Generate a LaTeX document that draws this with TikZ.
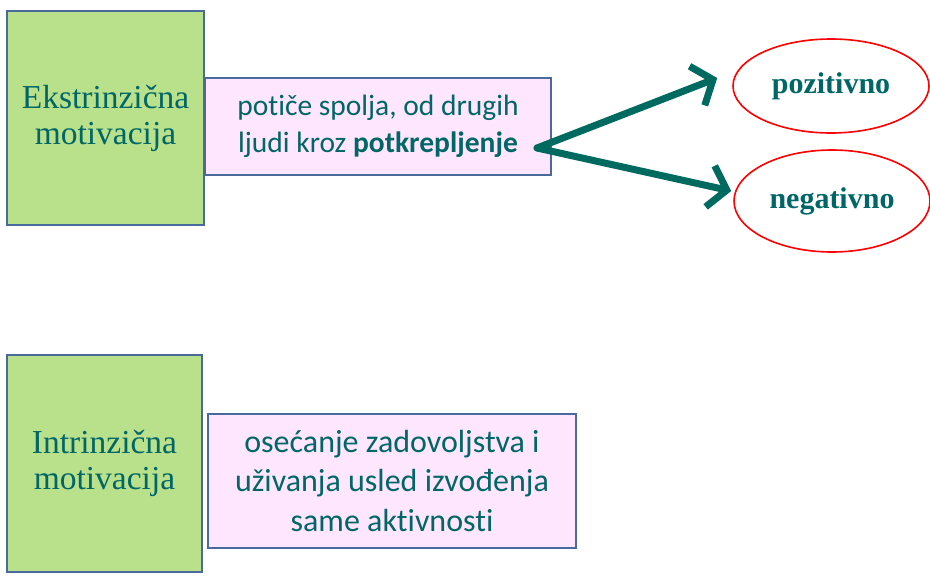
\documentclass[tikz,border=0pt]{standalone}
\usepackage{fontspec}
\setmainfont{Liberation Serif}
\newfontfamily\bodyfont[Ligatures=NoCommon]{Carlito}
\usepackage{xcolor}
\usepackage{tikz}
\usetikzlibrary{shapes.geometric,arrows.meta,calc}
\definecolor{teal}{HTML}{006666}
\definecolor{arrowc}{HTML}{006A60}
\definecolor{frame}{HTML}{4A6A9C}
\definecolor{leaf}{HTML}{B9E08B}
\definecolor{blush}{HTML}{FFE6FF}
\definecolor{ring}{HTML}{FF0000}
\tikzset{
  kind/.style={rectangle, draw=frame, fill=leaf, line width=1.6pt, text=teal,
    font=\fontsize{33.5}{36}\selectfont, align=center, inner sep=0pt},
  note/.style={rectangle, draw=frame, fill=blush, line width=1.3pt, text=teal,
    font=\bodyfont\fontsize{29.5}{37}\selectfont, align=center, inner sep=0pt},
  sign/.style={ellipse, draw=ring, line width=1.6pt, text=teal,
    font=\bfseries\fontsize{30}{32}\selectfont, inner sep=0pt},
  push/.style={draw=arrowc, line width=7pt, line cap=round,
    -{Straight Barb[length=17pt,width=42pt]}},
}
\begin{document}
\begin{tikzpicture}[x=1pt,y=-1pt]
  \useasboundingbox (0,0) rectangle (930,579);
  % extrinsic
  \node[kind, minimum width=197pt, minimum height=214pt] (ext) at (105.5,118) {Ekstrinzična\\motivacija};
  \node[note, minimum width=346pt, minimum height=97pt] (extnote) at (378,126.5) {potiče spolja, od drugih\\ljudi kroz \textbf{potkrepljenje}};
  \node[sign, minimum width=196pt, minimum height=94pt] (pos) at (831,86) {pozitivno};
  \node[sign, minimum width=196pt, minimum height=102pt] (neg) at (832,201) {negativno};
  \coordinate (fork) at (537,148);
  \coordinate (postip) at ($(pos.west)+(-15,-8)$);
  \coordinate (negtip) at ($(neg.west)+(-2,-10)$);
  \draw[push] (fork) -- (postip);
  \draw[push] (fork) -- (negtip);
  % intrinsic
  \node[kind, minimum width=195pt, minimum height=217pt] (int) at (104.5,463.5) {Intrinzična\\motivacija};
  \node[note, font=\bodyfont\fontsize{32}{39.5}\selectfont, minimum width=368pt, minimum height=134pt] (intnote) at (392,481) {osećanje zadovoljstva i\\uživanja usled izvođenja\\same aktivnosti};
\end{tikzpicture}
\end{document}
